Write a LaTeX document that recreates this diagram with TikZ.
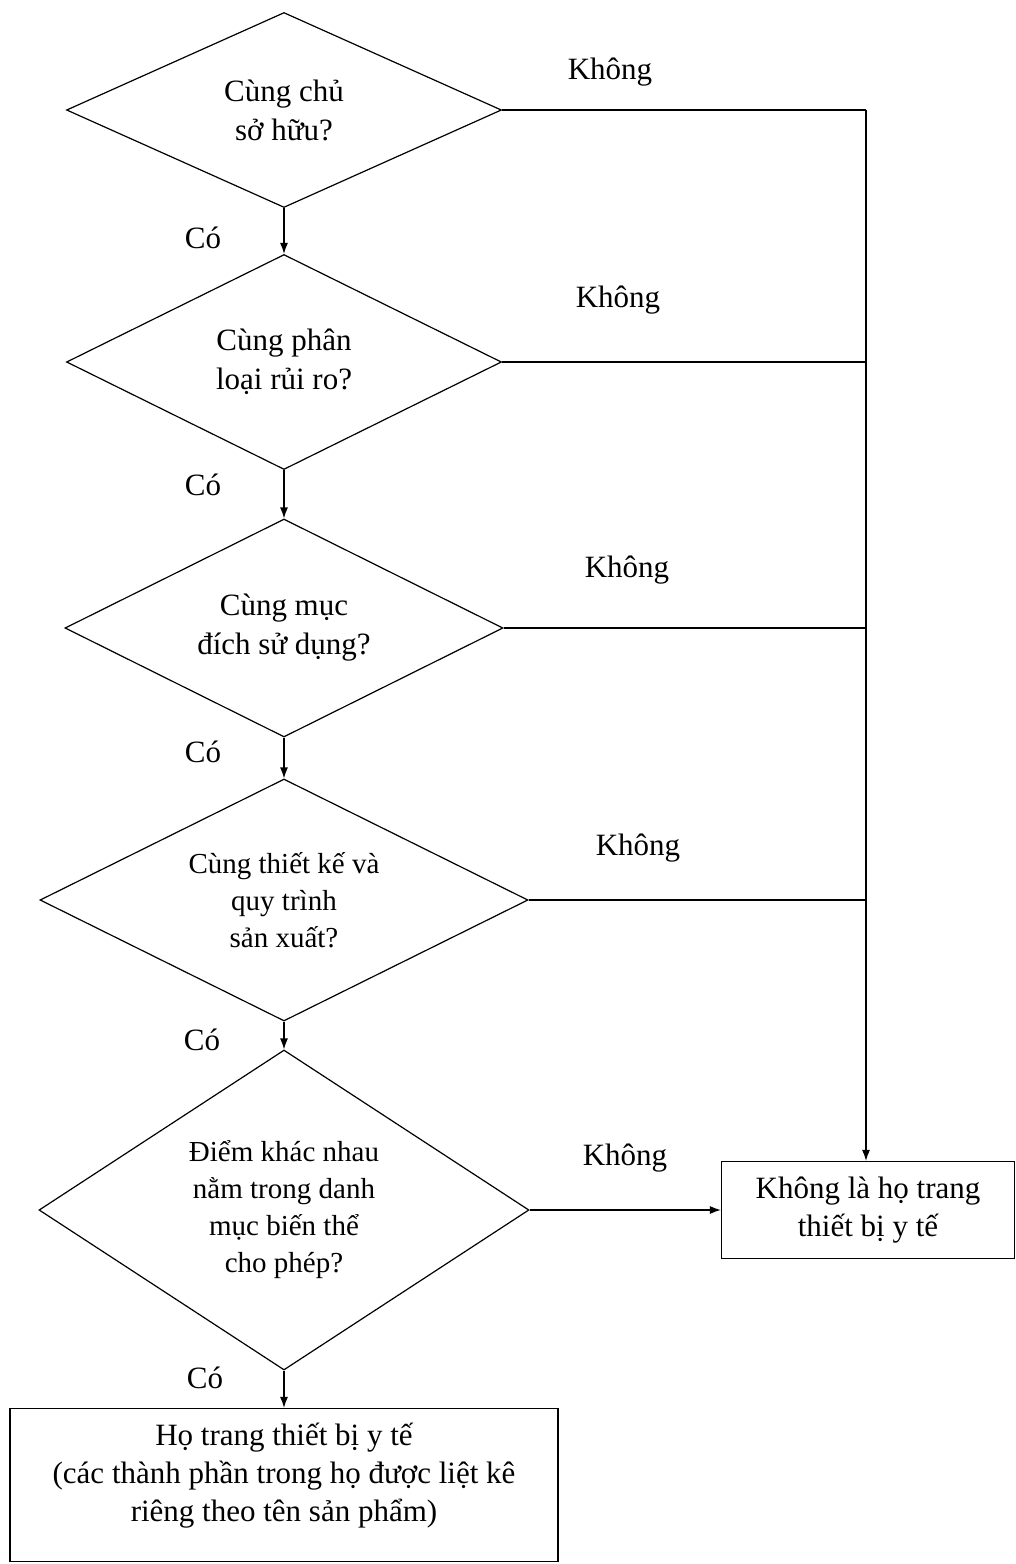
\documentclass[tikz,border=0pt]{standalone}
\usepackage{fontspec}
\setmainfont{Liberation Serif}
\usetikzlibrary{shapes.geometric,arrows.meta}
\begin{document}
\begin{tikzpicture}[x=1pt,y=-1pt,
  every node/.style={inner sep=0pt},
  dec/.style={diamond, draw, line width=1.2pt, align=center, font=\fontsize{31}{39}\selectfont},
  decs/.style={dec, font=\fontsize{29}{37}\selectfont},
  box/.style={rectangle, draw, line width=1.2pt, align=center, font=\fontsize{31}{38}\selectfont},
  lbl/.style={font=\fontsize{31}{38}\selectfont},
  conn/.style={line width=1.2pt},
  arr/.style={conn, -{Latex[length=11pt,width=8pt]}}]
\useasboundingbox (0,0) rectangle (1016,1564);
\fill[white] (0,0) rectangle (1016,1564);

% decisions
\node[dec, minimum width=435pt, minimum height=195pt, shape aspect=2.23] (d1) at (284,110) {Cùng chủ\\sở hữu?};
\node[dec, minimum width=435pt, minimum height=215pt, shape aspect=2.0] (d2) at (284,362) {Cùng phân\\loại rủi ro?};
\node[dec, minimum width=438pt, minimum height=218pt, shape aspect=2.0] (d3) at (284,628) {Cùng mục\\đích sử dụng?};
\node[decs, minimum width=488pt, minimum height=242pt, shape aspect=2.0] (d4) at (284,900) {Cùng thiết kế và\\quy trình\\sản xuất?};
\node[decs, minimum width=490pt, minimum height=320pt, shape aspect=1.53] (d5) at (284,1210) {Điểm khác nhau\\nằm trong danh\\mục biến thể\\cho phép?};

% outcome boxes
\node[box, minimum width=293pt, minimum height=97pt] (nb) at (868,1210) {Không là họ trang\\thiết bị y tế};
\node[box, minimum width=548pt, minimum height=153pt, text depth=25pt] (hb) at (284,1485) {Họ trang thiết bị y tế\\(các thành phần trong họ được liệt kê\\riêng theo tên sản phẩm)};

% junctions on the right collector line
\coordinate (j1) at (866,110);
\coordinate (j2) at (866,362);
\coordinate (j3) at (866,628);
\coordinate (j4) at (866,900);

% "Có" connectors
\draw[arr] (d1.south) -- (d2.north);
\draw[arr] (d2.south) -- (d3.north);
\draw[arr] (d3.south) -- (d4.north);
\draw[arr] (d4.south) -- (d5.north);
\draw[arr] (d5.south) -- (hb.north);

% "Không" connectors
\draw[conn] (d1.east) -- (j1);
\draw[conn] (d2.east) -- (j2);
\draw[conn] (d3.east) -- (j3);
\draw[conn] (d4.east) -- (j4);
\draw[arr] (j1) -- (j1 |- nb.north);
\draw[arr] (d5.east) -- (nb.west);

% labels
\node[lbl] (k1) at (610,72) {Không};
\node[lbl] (k2) at (618,300) {Không};
\node[lbl] (k3) at (627,570) {Không};
\node[lbl] (k4) at (638,848) {Không};
\node[lbl] (k5) at (625,1158) {Không};
\node[lbl] (c1) at (203,238) {Có};
\node[lbl] (c2) at (203,485) {Có};
\node[lbl] (c3) at (203,752) {Có};
\node[lbl] (c4) at (202,1040) {Có};
\node[lbl] (c5) at (205,1378) {Có};
\end{tikzpicture}
\end{document}
